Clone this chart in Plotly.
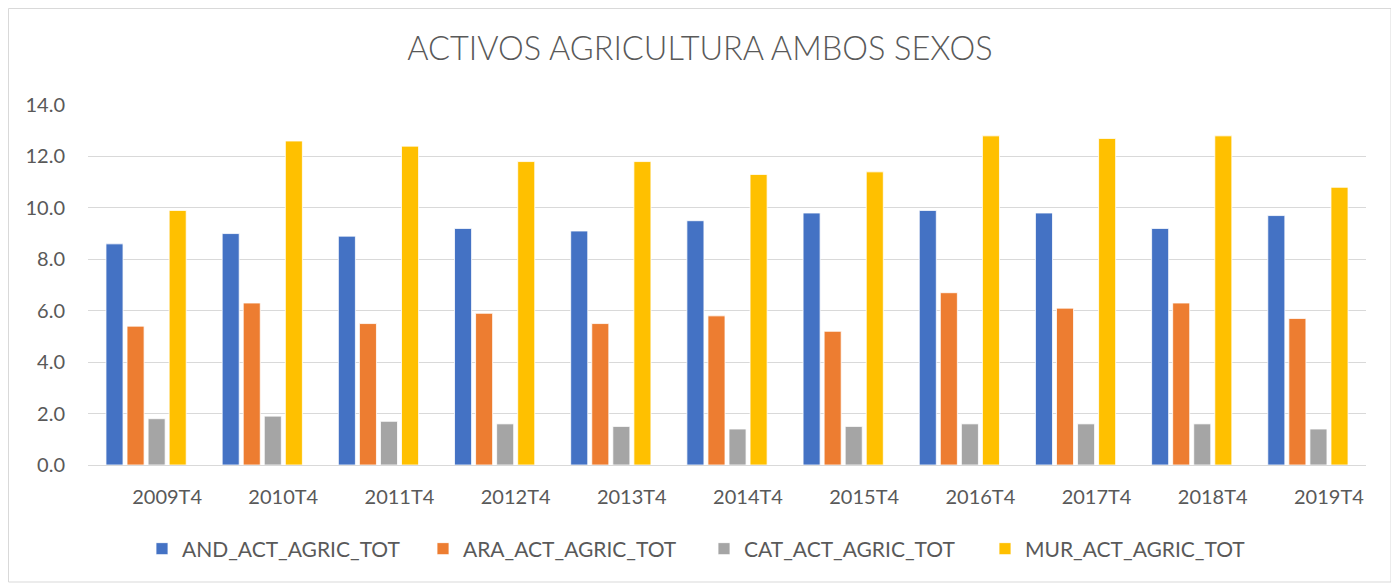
import plotly.graph_objects as go

categories = ["2009T4", "2010T4", "2011T4", "2012T4", "2013T4", "2014T4",
              "2015T4", "2016T4", "2017T4", "2018T4", "2019T4"]
and_vals = [8.6, 9.0, 8.9, 9.2, 9.1, 9.5, 9.8, 9.9, 9.8, 9.2, 9.7]
ara_vals = [5.4, 6.3, 5.5, 5.9, 5.5, 5.8, 5.2, 6.7, 6.1, 6.3, 5.7]
cat_vals = [1.8, 1.9, 1.7, 1.6, 1.5, 1.4, 1.5, 1.6, 1.6, 1.6, 1.4]
mur_vals = [9.9, 12.6, 12.4, 11.8, 11.8, 11.3, 11.4, 12.8, 12.7, 12.8, 10.8]
series_names = ["AND_ACT_AGRIC_TOT", "ARA_ACT_AGRIC_TOT", "CAT_ACT_AGRIC_TOT", "MUR_ACT_AGRIC_TOT"]
colors = ["#4472C4", "#ED7D31", "#A5A5A5", "#FFC000"]
y_ticks = [0, 2, 4, 6, 8, 10, 12, 14]

FONT = "Lato"
TXT = "#595959"

fig = go.Figure()
for name, vals, col in zip(series_names, [and_vals, ara_vals, cat_vals, mur_vals], colors):
    fig.add_trace(go.Bar(x=categories, y=vals, name=name,
                         marker=dict(color=col, line=dict(color="white", width=0.8))))

# page is offset by the default 8px body margin; work in figure pixels
OFF = 8
W, H = 1399 - OFF, 586 - OFF
L, T = 88 - OFF, 105 - OFF
R = W - (1366 - OFF)
B = H - (465 - OFF)
pw = W - L - R
ph = H - T - B

def px_x(x):
    return (x - L) / pw

def px_y(y):
    return (H - B - y) / ph

fig.update_layout(
    width=W, height=H,
    margin=dict(l=L, r=R, t=T, b=B, autoexpand=False),
    paper_bgcolor="white", plot_bgcolor="white",
    barmode="group", bargap=0.275, bargroupgap=0.19,
    title=dict(text="ACTIVOS AGRICULTURA AMBOS SEXOS", x=(700 - OFF) / W, xanchor="center",
               y=1 - (49 - OFF) / H, yanchor="middle", yref="container", xref="container",
               font=dict(family=FONT, size=32.5, color=TXT, weight=300)),
    font=dict(family=FONT, size=20, color=TXT),
    legend=dict(orientation="h", xref="container", yref="container",
                x=(142 - OFF) / W, xanchor="left", y=1 - (549 - OFF) / H, yanchor="middle",
                entrywidth=236, entrywidthmode="pixels",
                font=dict(family=FONT, size=21, color=TXT), traceorder="normal"),
    showlegend=True,
    shapes=[dict(type="rect", xref="paper", yref="paper",
                 x0=px_x(0.5), x1=px_x(1391 - OFF), y0=px_y(582 - OFF), y1=px_y(0.5),
                 line=dict(color="#D9D9D9", width=1), layer="below")],
)
fig.update_xaxes(showgrid=False, showline=True, linecolor="#D9D9D9", linewidth=1,
                 ticks="", ticklabelshift=21, ticklabelstandoff=14,
                 tickfont=dict(family=FONT, size=20, color=TXT))
fig.update_yaxes(range=[0, 14], tickvals=y_ticks, ticktext=[f"{v:.1f}" for v in y_ticks],
                 showgrid=True, gridcolor="#D9D9D9", gridwidth=1, zeroline=False,
                 showline=False, ticks="", ticklabelstandoff=22,
                 tickfont=dict(family=FONT, size=20, color=TXT))

fig.write_html("out.html")
